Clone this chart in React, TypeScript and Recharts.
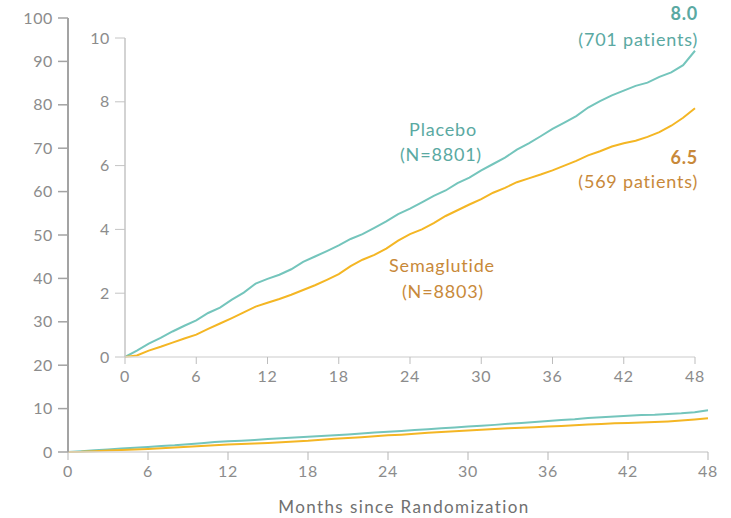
import React from "react";
import { LineChart, Line, XAxis, YAxis, Label } from "recharts";

// Cumulative incidence (%) by month since randomization
const months = [
  0, 1, 2, 3, 4, 5, 6, 7, 8, 9, 10, 11, 12, 13, 14, 15, 16, 17, 18, 19, 20, 21, 22, 23, 24,
  25, 26, 27, 28, 29, 30, 31, 32, 33, 34, 35, 36, 37, 38, 39, 40, 41, 42, 43, 44, 45, 46, 47, 48,
];
const placebo = [
  0, 0.2, 0.42, 0.6, 0.8, 0.98, 1.15, 1.38, 1.55, 1.8, 2.02, 2.3, 2.45, 2.58, 2.75, 2.98, 3.15,
  3.32, 3.5, 3.7, 3.85, 4.05, 4.25, 4.48, 4.65, 4.85, 5.05, 5.22, 5.45, 5.62, 5.85, 6.05, 6.25,
  6.5, 6.7, 6.92, 7.15, 7.35, 7.55, 7.82, 8.02, 8.2, 8.35, 8.5, 8.6, 8.78, 8.92, 9.15, 9.6,
];
const semaglutide = [
  0, 0.05, 0.2, 0.32, 0.45, 0.58, 0.7, 0.88, 1.05, 1.22, 1.4, 1.58, 1.7, 1.82, 1.95, 2.1, 2.25,
  2.42, 2.6, 2.85, 3.05, 3.2, 3.4, 3.65, 3.85, 4.0, 4.2, 4.42, 4.6, 4.78, 4.95, 5.15, 5.3, 5.48,
  5.6, 5.72, 5.85, 6.0, 6.15, 6.32, 6.45, 6.6, 6.7, 6.78, 6.9, 7.05, 7.25, 7.5, 7.8,
];

const monthTicks = [0, 6, 12, 18, 24, 30, 36, 42, 48];
const outerTicks = [0, 10, 20, 30, 40, 50, 60, 70, 80, 90, 100];
const insetTicks = [0, 2, 4, 6, 8, 10];

const rows = months.map((m, i) => ({ month: m, placebo: placebo[i], semaglutide: semaglutide[i] }));

const TEAL = "#74c5bc";
const GOLD = "#f4b624";
const TEAL_TEXT = "#5aa9a2";
const GOLD_TEXT = "#c8893a";
const FONT = "Lato, 'Open Sans', sans-serif";

export default function App() {
  const tickStyle = { fill: "#8c8c8c", fontSize: 16, fontFamily: FONT, letterSpacing: 0.6 };
  const noteProps = { fontFamily: FONT, fontSize: 18, letterSpacing: 0.8 };
  return (
    <div style={{ position: "absolute", left: 0, top: 0, width: 731, height: 518, background: "#fff", fontFamily: FONT }}>
      {/* full-scale chart, 0-100 % */}
      <div style={{ position: "absolute", left: 0, top: 0 }}>
        <LineChart width={731} height={518} data={rows} margin={{ top: 18, right: 23, bottom: 0, left: 0 }}>
          <XAxis
            dataKey="month"
            type="number"
            domain={[0, 48]}
            ticks={monthTicks}
            height={66}
            tickSize={8}
            tickMargin={6}
            tick={tickStyle}
            axisLine={{ stroke: "#d4d4d4", strokeWidth: 1.5 }}
            tickLine={{ stroke: "#b5b5b5" }}
          >
            <Label
              value="Months since Randomization"
              position="insideBottom"
              offset={5}
              dx={16}
              style={{ fill: "#707070", fontSize: 17, fontFamily: FONT, letterSpacing: 1.4 }}
            />
          </XAxis>
          <YAxis
            type="number"
            domain={[0, 100]}
            ticks={outerTicks}
            width={68}
            tickSize={10}
            tickMargin={5}
            tick={tickStyle}
            axisLine={{ stroke: "#a3a3a3", strokeWidth: 2 }}
            tickLine={{ stroke: "#a3a3a3", strokeWidth: 1.5 }}
          />
          <Line dataKey="placebo" stroke={TEAL} strokeWidth={2} dot={false} isAnimationActive={false} />
          <Line dataKey="semaglutide" stroke={GOLD} strokeWidth={2} dot={false} isAnimationActive={false} />
        </LineChart>
      </div>

      {/* inset, 0-10 % */}
      <div style={{ position: "absolute", left: 0, top: 0 }}>
        <LineChart width={731} height={400} data={rows} margin={{ top: 38, right: 36, bottom: 13, left: 0 }}>
          <XAxis
            dataKey="month"
            type="number"
            domain={[0, 48]}
            ticks={monthTicks}
            height={30}
            tickSize={7}
            tickMargin={7}
            tick={tickStyle}
            axisLine={{ stroke: "#dcdcdc", strokeWidth: 1.5 }}
            tickLine={{ stroke: "#bdbdbd" }}
          />
          <YAxis
            type="number"
            domain={[0, 10]}
            ticks={insetTicks}
            width={125}
            tickSize={10}
            tickMargin={5}
            tick={tickStyle}
            axisLine={{ stroke: "#c4c4c4", strokeWidth: 1.5 }}
            tickLine={{ stroke: "#c4c4c4" }}
          />
          <Line dataKey="placebo" stroke={TEAL} strokeWidth={2} dot={false} isAnimationActive={false} />
          <Line dataKey="semaglutide" stroke={GOLD} strokeWidth={2} dot={false} isAnimationActive={false} />
        </LineChart>
      </div>

      {/* series annotations */}
      <svg width={731} height={518} style={{ position: "absolute", left: 0, top: 0, pointerEvents: "none" }}>
        <g {...noteProps}>
          <text x={698} y={20} textAnchor="end" fill={TEAL_TEXT} fontWeight={700}>8.0</text>
          <text x={698} y={46} textAnchor="end" fill={TEAL_TEXT}>(701 patients)</text>
          <text x={443} y={136} textAnchor="middle" fill={TEAL_TEXT}>Placebo</text>
          <text x={441} y={161} textAnchor="middle" fill={TEAL_TEXT}>(N=8801)</text>
          <text x={698} y={164} textAnchor="end" fill={GOLD_TEXT} fontWeight={700}>6.5</text>
          <text x={698} y={188} textAnchor="end" fill={GOLD_TEXT}>(569 patients)</text>
          <text x={442} y={272} textAnchor="middle" fill={GOLD_TEXT}>Semaglutide</text>
          <text x={443} y={298} textAnchor="middle" fill={GOLD_TEXT}>(N=8803)</text>
        </g>
      </svg>
    </div>
  );
}
